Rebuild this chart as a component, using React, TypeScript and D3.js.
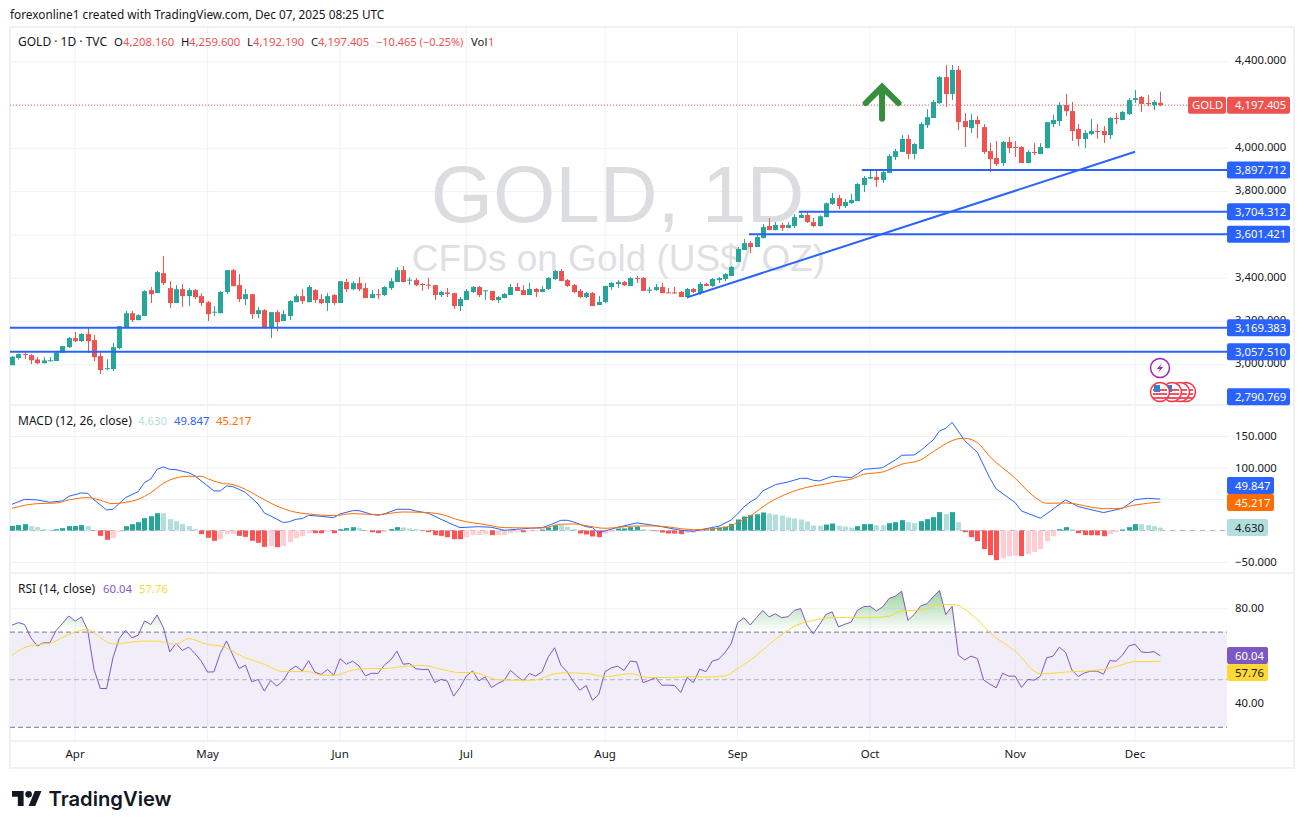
import React, { useEffect, useRef } from 'react';
import * as d3 from 'd3';

const opens = [
  2996,3029,3047,3042,3022,3005,3016,3015,3053,3079,
  3121,3107,3140,3112,3038,2979,2978,3075,3172,3236,
  3204,3223,3343,3329,3421,3352,3283,3347,3315,3343,
  3315,3287,3240,3236,3334,3435,3366,3301,3324,3232,
  3250,3172,3241,3200,3223,3287,3315,3287,3343,3301,
  3283,3320,3283,3380,3347,3375,3352,3306,3324,3320,
  3352,3380,3435,3387,3389,3371,3368,3366,3320,3332,
  3329,3269,3297,3334,3357,3339,3339,3297,3306,3320,
  3357,3343,3320,3348,3334,3348,3394,3431,3389,3366,
  3339,3311,3329,3274,3288,3357,3371,3380,3362,3399,
  3399,3340,3343,3357,3332,3332,3334,3311,3348,3329,
  3371,3362,3389,3394,3408,3473,3528,3560,3542,3583,
  3639,3620,3644,3630,3639,3676,3690,3657,3639,3680,
  3741,3768,3731,3745,3754,3828,3858,3865,3851,3884,
  3958,3981,4041,3972,3995,4105,4138,4207,4327,4249,
  4360,4124,4092,4129,4096,3985,3953,3930,4027,4004,
  4004,3930,3981,3972,3999,4110,4124,4198,4170,4087,
  4041,4064,4078,4078,4059,4138,4129,4156,4221,4235,
  4207,4198,4208.16,
];
const highs = [
  3038,3050,3056,3047,3033,3033,3033,3059,3084,3126,
  3149,3144,3167,3135,3056,3024,3098,3176,3246,3246,
  3232,3343,3357,3431,3500,3384,3366,3371,3352,3347,
  3329,3292,3269,3338,3435,3440,3417,3347,3324,3264,
  3255,3241,3250,3250,3297,3324,3347,3366,3347,3324,
  3329,3324,3384,3394,3384,3403,3375,3343,3347,3361,
  3398,3449,3454,3403,3398,3376,3399,3366,3339,3353,
  3329,3311,3348,3362,3362,3343,3339,3315,3329,3371,
  3376,3366,3376,3353,3362,3403,3436,3440,3394,3371,
  3348,3334,3334,3315,3362,3380,3389,3385,3403,3408,
  3403,3357,3371,3376,3353,3357,3339,3353,3353,3380,
  3376,3399,3403,3422,3454,3542,3579,3570,3597,3648,
  3676,3657,3653,3657,3694,3704,3708,3676,3688,3748,
  3791,3782,3764,3787,3838,3870,3895,3898,3893,3972,
  3995,4059,4059,4022,4119,4179,4221,4332,4383,4383,
  4378,4161,4156,4147,4110,4022,4032,4032,4050,4032,
  4008,3990,4022,4022,4119,4152,4212,4249,4212,4110,
  4082,4133,4110,4101,4142,4161,4170,4230,4267,4239,
  4244,4221,4259.6,
];
const lows = [
  2996,3022,3024,3001,3001,3004,3012,3015,3053,3075,
  3103,3103,3052,3015,2955,2973,2969,3070,3172,3195,
  3204,3223,3283,3329,3366,3260,3283,3264,3269,3301,
  3269,3200,3223,3236,3324,3361,3287,3274,3209,3213,
  3167,3121,3153,3200,3204,3287,3278,3287,3283,3278,
  3246,3274,3283,3334,3343,3338,3306,3306,3301,3315,
  3343,3380,3380,3366,3361,3339,3348,3297,3311,3311,
  3255,3246,3297,3329,3311,3297,3292,3283,3306,3320,
  3339,3320,3320,3311,3334,3343,3389,3385,3357,3329,
  3306,3306,3269,3274,3283,3343,3353,3362,3362,3376,
  3339,3329,3339,3329,3329,3325,3311,3306,3329,3320,
  3362,3357,3376,3385,3408,3473,3528,3514,3542,3583,
  3620,3620,3616,3630,3630,3676,3653,3634,3636,3680,
  3736,3717,3722,3741,3754,3796,3856,3819,3838,3884,
  3944,3981,3948,3948,3995,4092,4138,4203,4189,4221,
  4082,4004,4069,4045,3972,3888,3916,3916,3976,3958,
  3930,3930,3967,3972,3999,4096,4101,4147,4032,4008,
  3999,4059,4041,4022,4041,4110,4129,4152,4207,4166,
  4193,4175,4192.19,
];
const closes = [
  3035,3047,3044,3019,3005,3018,3019,3055,3084,3121,
  3107,3140,3107,3033,2973,2982,3079,3176,3236,3204,
  3227,3338,3324,3426,3375,3283,3347,3315,3343,3310,
  3283,3232,3243,3334,3435,3361,3301,3324,3232,3250,
  3167,3241,3195,3232,3292,3315,3292,3357,3297,3283,
  3315,3283,3384,3347,3375,3347,3306,3324,3321,3357,
  3384,3435,3380,3391,3366,3368,3365,3320,3334,3325,
  3269,3302,3339,3357,3320,3342,3297,3311,3325,3357,
  3339,3320,3348,3334,3348,3399,3431,3385,3362,3334,
  3311,3329,3269,3288,3362,3376,3380,3365,3399,3396,
  3339,3345,3357,3329,3329,3328,3311,3348,3334,3371,
  3362,3394,3399,3417,3450,3533,3560,3542,3588,3634,
  3620,3644,3630,3644,3680,3690,3657,3639,3684,3744,
  3768,3731,3750,3759,3833,3861,3865,3851,3888,3962,
  3985,4041,3972,4018,4110,4142,4212,4327,4249,4360,
  4119,4096,4129,4110,3981,3948,3925,4027,3999,4001,
  3930,3981,3976,4004,4119,4129,4198,4170,4078,4041,
  4069,4078,4075,4059,4138,4135,4166,4221,4230,4203,
  4204,4212,4197.405,
];

const macdHist = [
  7.4,8.5,10.1,6.9,5.3,2.1,1.1,2.1,3.7,6.9,
  7,8.5,6.9,-0.5,-8.5,-14.8,-11.6,-2.1,6.9,10.1,
  13.2,19.6,22.7,27.5,27.4,18,14.8,10.1,6.9,2.1,
  -5.8,-11.6,-16.4,-13.8,-5.8,-5.3,-8.5,-10.1,-16.4,-19.6,
  -25.9,-24.9,-26.5,-24.9,-18.5,-12.2,-9,-4.2,-4.3,-4.4,
  -2.6,-4.2,2.1,3.7,5.3,3.7,-0.5,-2.6,-4.2,-2.6,
  2.1,5.3,4.8,3.2,2.1,-0.5,-2.6,-7.4,-8.5,-10.6,
  -13.8,-13.9,-10.6,-7.4,-7.3,-5.8,-7.4,-7.3,-7.2,-4.2,
  -2.6,-2.7,-1.1,-1,1.6,4.8,8.5,8.4,5.8,2.6,
  -4.8,-6.3,-9.5,-10.6,-5.3,-2.1,3.2,3.3,5.3,6.3,
  2.1,1.1,-1.1,-3.2,-4.8,-4.9,-5.8,-3.7,-3.6,-2.1,
  1.6,3.2,4.8,6.3,10.6,17.5,22.2,24.3,25.9,28.6,
  27,25.4,23.8,20.6,19,17.5,14.3,7.9,7.8,9.5,
  11.1,7.4,6.3,4.8,6.9,10.1,10.2,8.5,8.4,11.6,
  13.2,16.4,13.2,11.6,14.8,18,21.2,29.1,25.9,29.1,
  13.2,-2.6,-10.6,-16.9,-29.6,-39.1,-47.1,-43.9,-40.7,-39.7,
  -40.7,-37.6,-34.4,-29.6,-16.9,-9,2.1,5.3,2.1,-4.2,
  -7.4,-7.5,-7.6,-9,-5.8,-2.6,1.6,5.3,10.1,10,
  8.5,6.9,4.63,
];

// MACD and signal lines, read at their turning points: candle number, value
const macdAt = [1,3,5,7,9,10,12,13,14,16,17,19,21,22,23,24,25,26,27,28,29,30,33,34,35,36,38,40,41,42,44,45,46,47,48,50,52,53,55,56,58,59,60,62,64,65,67,69,71,72,73,75,77,79,81,83,85,86,88,89,90,92,93,94,95,97,100,102,104,107,109,111,113,115,116,117,118,119,120,122,124,126,127,128,129,131,134,135,136,138,139,141,142,144,145,147,148,149,150,152,154,156,157,160,161,164,168,170,174,177,179,181,183];
const macdVal = [41.6,49.5,48.5,44.8,46.9,54.3,59.6,59.1,48.5,32.6,33.7,52.2,61.7,76,81.8,97.1,100.8,97.1,96.6,94,91.8,86.6,62.8,62.8,70.7,69.6,60.6,42.1,27.8,23.1,12.5,14.1,17.8,18.8,24.1,22.5,20.4,26.3,31.5,31.5,25.7,24.1,26.3,33.7,33.7,31,27.3,17.8,8.8,4.6,5.1,6.1,5.1,0.3,1.9,3.5,4.6,7.7,16.2,16.2,13.6,6.1,4.6,-3.9,-0.7,5.1,12,9.3,6.1,0.3,-1.3,2.9,6.7,16.7,26.3,37.4,45.3,51.1,62.8,72.8,77,82.9,82.9,79.7,78.6,86,83.9,89.7,97.1,98.7,99.8,111.9,119.4,119.9,126.8,143.7,158,162.2,171.7,142.6,124.1,82.9,65.9,44.2,31,19.4,48.5,37.9,28.4,35.2,49,51.1,49.847];
const signalAt = [1,3,5,8,10,13,15,17,19,21,23,25,27,29,31,32,34,36,38,40,44,46,48,52,55,59,63,66,69,72,76,79,85,88,90,92,95,100,103,109,114,116,118,121,124,127,130,132,134,136,139,142,145,147,150,151,152,154,156,160,163,165,168,174,176,179,183];
const signalVal = [35.2,40,42.6,43.7,48.5,52.2,47.9,42.6,44.8,49.5,60.1,74.9,83.4,86,86,82.3,75.4,72.8,65.4,54.3,34.7,28.9,26.3,23.6,26.8,25.2,29.4,28.9,25.7,16.2,9.3,4.6,4,9.9,10.4,7.7,3.5,7.2,7.2,1.4,4.6,12.5,23.1,44.2,59,68.6,73.9,78.1,81.5,89.2,92.9,105.1,112,125.2,142.6,145.8,146.3,139.4,117.2,82.9,53.8,43.2,43.7,34.7,34.7,40.5,45.217];

const rsiVal = [
  72.9,74,73.2,67.6,64.2,65.5,65.5,70.7,73.6,76.8,
  74.6,76.4,70.8,54.3,46.3,46.3,59.2,67.3,70.8,67.6,
  68.7,74.7,73.2,77.2,71.8,61.7,65.2,62.3,63.7,61,
  57.8,53.2,53.3,61,66.3,60.3,54.7,56.1,49.1,50.1,
  45.2,49.7,47.3,49.7,54,55.7,53.7,58,53.2,52.2,
  54.3,51.9,58.8,56.5,57.8,55.8,51.6,52.7,52.6,56.1,
  58.2,62,56.5,56.8,54.6,54.3,54.3,48.8,50.1,49.4,
  43.1,46.7,51.5,53.7,49.5,51.2,46.7,48.4,49.7,53.9,
  51.6,49.5,52.6,51.5,53.3,59.6,63.4,56.1,53.3,49.1,
  45.6,47.6,41.3,43.8,53.4,55,55.7,53.9,57.8,57.5,
  48.8,49.7,50.9,47.7,47.7,47.6,44.6,50.9,48.8,54.4,
  53.4,57.8,58.6,61.4,65.2,73.9,76,73,76.1,79.1,
  76.4,77.7,76,76.5,79.1,79.9,72.9,69.3,73.2,77.4,
  78.5,72.2,73.3,74.2,79.2,80.7,80.9,78.9,80.6,84.1,
  85.1,87.2,74.9,77.4,81,81.9,84.8,87.5,77.4,80.9,
  60.3,58.3,59.9,58.9,49.9,48.1,46.6,52.7,51.5,51.5,
  46.7,50.1,49.8,51.5,59.2,59.9,63.7,61.4,54,51.3,
  52.9,53.6,53.6,52.3,58,57.8,60.3,64.2,64.9,61.7,
  61.4,61.8,60.04,
];
const rsiMaAt = [1,3,5,7,10,12,13,15,17,19,22,24,25,27,29,32,34,38,41,44,48,50,52,55,58,60,63,66,69,72,74,78,82,84,87,89,92,95,99,102,106,108,111,114,116,119,121,126,128,131,133,137,140,142,145,148,150,154,156,160,164,168,174,176,179,181,183];
const rsiMaVal = [60.3,63.5,64.8,65.3,69,70.8,71.1,67.7,65,65.5,66.2,66.2,65.8,64.8,67.3,64.8,64.2,59.2,56.5,53.4,53.4,51.9,51.8,54,54.7,54.7,55.5,56,54.4,53,53,50.1,49.7,49.9,52.5,52.9,52.6,51.3,52.5,50.9,50.9,51.3,51.1,51.6,54.7,60.2,64.8,73.6,74.9,76.1,76.1,76.1,76.7,78.9,79.2,81.6,81.6,75.3,69.8,62,52.5,53.2,54.3,55.5,57.6,57.6,57.76];

const monthLabels = ['Apr', 'May', 'Jun', 'Jul', 'Aug', 'Sep', 'Oct', 'Nov', 'Dec'];
const monthCandles = [11, 32, 53, 73, 95, 116, 137, 160, 179];

const priceTicks = [4400, 4200, 4000, 3800, 3600, 3400, 3200, 3000];
const priceLabelled = [4400, 4000, 3800, 3400, 3200, 3000];
const macdTicks = [150, 100, 50, 0, -50];
const macdLabelled = [150, 100, -50];
const rsiTicks = [80, 60, 40];

// level lines: price and the candle they start from (0 = left edge of the pane)
const levelPrices = [3897.712, 3704.312, 3601.421, 3169.383, 3057.51];
const levelStarts = [135.7, 125.7, 117.8, 0, 0];
const trendCandles = [108, 179];
const trendPrices = [3309, 3982];

const UP = '#26a69a';
const DOWN = '#ef5350';
const BLUE = '#2962ff';
const INK = '#131722';
const FONT = '"Noto Sans", sans-serif';
const NUM_SIZE = 11.3;
const LABEL_SIZE = 12;

const W = 1304;
const H = 829;
const LEFT = 10;
const AXIS_X = 1227;

const App: React.FC = () => {
  const svgRef = useRef<SVGSVGElement>(null);

  useEffect(() => {
    if (!svgRef.current) return;
    const svg = d3.select(svgRef.current);
    svg.selectAll('*').remove();
    svg.attr('font-family', FONT);

    const x = d3.scaleLinear().domain([1, 183]).range([12, 1160.3]);
    const px = (n: number) => Math.round(x(n));
    const y = d3.scaleLinear().domain([3000, 4400]).range([364.3, 61.3]);
    const my = d3.scaleLinear().domain([-50, 150]).range([562, 436]);
    const ry = d3.scaleLinear().domain([30, 80]).range([727.3, 608.3]);

    svg.append('rect').attr('width', W).attr('height', H).attr('fill', '#fff');

    // gridlines and axes
    const gridColor = '#f0f1f4';
    const styleAxis = (g: any) => {
      g.select('.domain').remove();
      g.selectAll('.tick line').attr('stroke', gridColor).attr('stroke-width', 1);
      g.selectAll('.tick text').attr('fill', INK).attr('font-family', FONT);
    };
    const rightAxis = (scale: any, ticks: number[], labelled: number[], fmt: (v: number) => string, lift = 0) => {
      const axis = d3.axisRight(scale)
        .tickValues(ticks)
        .tickSize(-(AXIS_X - LEFT))
        .tickPadding(8)
        .tickFormat((v: any) => (labelled.includes(v) ? fmt(v) : ''));
      const g = svg.append('g').attr('transform', `translate(${AXIS_X},0)`).call(axis as any).call(styleAxis);
      g.selectAll('.tick text').attr('font-size', NUM_SIZE).attr('y', -lift);
    };

    const timeAxis = d3.axisBottom(x)
      .tickValues(monthCandles)
      .tickSize(-714)
      .tickPadding(9)
      .tickFormat((_: any, i: number) => monthLabels[i]);
    const timeG = svg.append('g').attr('transform', 'translate(-0.5,741)').call(timeAxis as any).call(styleAxis);
    timeG.selectAll('.tick text').attr('font-size', 11.5);

    rightAxis(y, priceTicks, priceLabelled, d3.format(',.3f'), 1);
    rightAxis(my, macdTicks, macdLabelled, d3.format('.3f'));

    // RSI band sits under its own grid
    svg.append('rect')
      .attr('x', LEFT).attr('width', AXIS_X - LEFT)
      .attr('y', ry(70)).attr('height', ry(30) - ry(70))
      .attr('fill', 'rgba(126,87,194,0.1)');
    rightAxis(ry, rsiTicks, rsiTicks, d3.format('.2f'), 0.5);

    // frame and pane separators
    svg.append('rect')
      .attr('x', LEFT).attr('y', 27).attr('width', 1284).attr('height', 741)
      .attr('fill', 'none').attr('stroke', gridColor).attr('stroke-width', 2);
    [405, 573, 741].forEach((yy) => {
      svg.append('line').attr('x1', LEFT).attr('x2', 1294).attr('y1', yy).attr('y2', yy)
        .attr('stroke', gridColor).attr('stroke-width', 2);
    });

    // watermark
    svg.append('text').attr('x', 617.5).attr('y', 222).attr('text-anchor', 'middle')
      .attr('font-family', '"Liberation Sans", sans-serif').attr('font-size', 80)
      .attr('fill', '#dcdde0').text('GOLD, 1D');
    svg.append('text').attr('x', 618.5).attr('y', 271).attr('text-anchor', 'middle')
      .attr('font-family', '"Liberation Sans", sans-serif').attr('font-size', 37)
      .attr('fill', '#dfe0e3').text('CFDs on Gold (US$/ OZ)');

    // last price line
    svg.append('line')
      .attr('x1', LEFT).attr('x2', 1188)
      .attr('y1', y(closes[182])).attr('y2', y(closes[182]))
      .attr('stroke', DOWN).attr('stroke-width', 1).attr('stroke-dasharray', '1 2');

    // candles
    const candles = svg.append('g');
    closes.forEach((c, i) => {
      const n = i + 1;
      const color = c >= opens[i] ? UP : DOWN;
      const cx = px(n);
      candles.append('rect')
        .attr('x', cx).attr('width', 1)
        .attr('y', y(highs[i])).attr('height', y(lows[i]) - y(highs[i]))
        .attr('fill', color);
      const top = y(Math.max(opens[i], c));
      const bottom = y(Math.min(opens[i], c));
      candles.append('rect')
        .attr('x', cx - 2).attr('width', 5)
        .attr('y', top).attr('height', Math.max(bottom - top, 1))
        .attr('fill', color);
    });

    // level lines and trend line
    levelPrices.forEach((p, i) => {
      svg.append('line')
        .attr('x1', levelStarts[i] ? x(levelStarts[i]) : LEFT).attr('x2', AXIS_X)
        .attr('y1', y(p)).attr('y2', y(p))
        .attr('stroke', BLUE).attr('stroke-width', 2);
    });
    svg.append('line')
      .attr('x1', x(trendCandles[0])).attr('y1', y(trendPrices[0]))
      .attr('x2', x(trendCandles[1])).attr('y2', y(trendPrices[1]))
      .attr('stroke', BLUE).attr('stroke-width', 2);

    // green arrow drawing
    const arrowN = 138.9;
    const arrow = d3.path();
    arrow.moveTo(x(arrowN), y(4135));
    arrow.lineTo(x(arrowN), y(4280));
    arrow.moveTo(x(arrowN - 2.6), y(4207));
    arrow.lineTo(x(arrowN), y(4282));
    arrow.lineTo(x(arrowN + 2.6), y(4207));
    svg.append('path').attr('d', arrow.toString())
      .attr('fill', 'none').attr('stroke', '#388e3c').attr('stroke-width', 6)
      .attr('stroke-linecap', 'round').attr('stroke-linejoin', 'miter');

    // MACD histogram
    const zero = my(0);
    svg.append('line').attr('x1', LEFT).attr('x2', AXIS_X).attr('y1', zero).attr('y2', zero)
      .attr('stroke', '#b2b5be').attr('stroke-width', 1).attr('stroke-dasharray', '5 5');
    macdHist.forEach((v, i) => {
      const prev = i ? macdHist[i - 1] : v;
      let fill = v >= prev ? UP : '#b2dfdb';
      if (v < 0) fill = v > prev ? '#ffcdd2' : '#ff5252';
      svg.append('rect')
        .attr('x', px(i + 1) - 2).attr('width', 5)
        .attr('y', Math.min(my(v), zero)).attr('height', Math.abs(my(v) - zero))
        .attr('fill', fill);
    });

    const macdLine = d3.line<number>()
      .x((_, i) => x(macdAt[i]))
      .y((d) => my(d))
      .curve(d3.curveLinear);
    svg.append('path').datum(macdVal).attr('d', macdLine as any)
      .attr('fill', 'none').attr('stroke', BLUE).attr('stroke-width', 1);
    const signalLine = d3.line<number>()
      .x((_, i) => x(signalAt[i]))
      .y((d) => my(d))
      .curve(d3.curveMonotoneX);
    svg.append('path').datum(signalVal).attr('d', signalLine as any)
      .attr('fill', 'none').attr('stroke', '#ff6d00').attr('stroke-width', 1);

    // RSI levels
    const levels: [number, string][] = [[70, '#787b86'], [50, 'rgba(120,123,134,0.5)'], [30, '#787b86']];
    levels.forEach(([v, color]) => {
      svg.append('line').attr('x1', LEFT).attr('x2', AXIS_X).attr('y1', ry(v)).attr('y2', ry(v))
        .attr('stroke', color).attr('stroke-width', 1).attr('stroke-dasharray', '5 3');
    });

    // overbought fill
    const defs = svg.append('defs');
    const grad = defs.append('linearGradient').attr('id', 'obFill')
      .attr('gradientUnits', 'userSpaceOnUse')
      .attr('x1', 0).attr('x2', 0).attr('y1', 590).attr('y2', ry(70));
    grad.append('stop').attr('offset', 0).attr('stop-color', '#4caf50').attr('stop-opacity', 0.55);
    grad.append('stop').attr('offset', 1).attr('stop-color', '#4caf50').attr('stop-opacity', 0);
    defs.append('clipPath').attr('id', 'obClip').append('rect')
      .attr('x', LEFT).attr('width', AXIS_X - LEFT).attr('y', 574).attr('height', ry(70) - 574);
    const rsiArea = d3.area<number>()
      .x((_, i) => x(i + 1))
      .y0(ry(70))
      .y1((d) => ry(d));
    svg.append('path').datum(rsiVal).attr('d', rsiArea as any)
      .attr('fill', 'url(#obFill)').attr('clip-path', 'url(#obClip)');

    const rsiLine = d3.line<number>().x((_, i) => x(i + 1)).y((d) => ry(d));
    svg.append('path').datum(rsiVal).attr('d', rsiLine as any)
      .attr('fill', 'none').attr('stroke', '#7e57c2').attr('stroke-width', 1);
    const rsiMaLine = d3.line<number>()
      .x((_, i) => x(rsiMaAt[i]))
      .y((d) => ry(d))
      .curve(d3.curveMonotoneX);
    svg.append('path').datum(rsiMaVal).attr('d', rsiMaLine as any)
      .attr('fill', 'none').attr('stroke', '#fdd835').attr('stroke-width', 1);

    // event icons
    const bolt = svg.append('g').attr('transform', 'translate(1160,368)');
    bolt.append('circle').attr('r', 9.5).attr('fill', '#fff').attr('stroke', '#9c27b0').attr('stroke-width', 1.5);
    bolt.append('path').attr('d', 'M2,-5 L-3,1 L0,1 L-2,5 L3,-1 L0,-1 Z').attr('fill', '#9c27b0');
    [1186, 1180, 1172, 1160].forEach((cx) => {
      const f = svg.append('g').attr('transform', `translate(${cx},392)`);
      f.append('circle').attr('r', 9.5).attr('fill', '#fff').attr('stroke', '#f23645').attr('stroke-width', 1.5);
      f.append('rect').attr('x', -7).attr('y', -3).attr('width', 14).attr('height', 2).attr('fill', '#f7525f');
      f.append('rect').attr('x', -7).attr('y', 1).attr('width', 14).attr('height', 2).attr('fill', '#f7525f');
      f.append('rect').attr('x', -7).attr('y', 5).attr('width', 14).attr('height', 2).attr('fill', '#f7525f');
      f.append('rect').attr('x', -6).attr('y', -7).attr('width', 6).attr('height', 7).attr('fill', '#2f80d8');
    });

    // axis tags
    const tag = (xx: number, cy: number, w: number, fill: string, color: string, label: string, pad = 8) => {
      svg.append('rect').attr('x', xx).attr('y', cy - 8.5).attr('width', w).attr('height', 17)
        .attr('rx', 2).attr('fill', fill);
      svg.append('text').attr('x', xx + pad).attr('y', cy + 4)
        .attr('font-size', NUM_SIZE).attr('fill', color).text(label);
    };
    const fmt3 = d3.format(',.3f');
    levelPrices.forEach((p) => tag(AXIS_X, y(p), 63, BLUE, '#fff', fmt3(p)));
    tag(AXIS_X, 396.7, 63, BLUE, '#fff', '2,790.769');
    tag(1188, y(closes[182]), 38, DOWN, '#fff', 'GOLD', 4);
    tag(AXIS_X, y(closes[182]), 63, DOWN, '#fff', fmt3(closes[182]));
    tag(AXIS_X, 485.5, 47, BLUE, '#fff', '49.847');
    tag(AXIS_X, 502.5, 47, '#ff6d00', '#fff', '45.217');
    tag(AXIS_X, 527.5, 41, '#b2dfdb', INK, '4.630');
    tag(AXIS_X, 655.5, 41, '#7e57c2', '#fff', '60.04');
    tag(AXIS_X, 672.5, 41, '#fdd835', INK, '57.76');

    // header and legends
    svg.append('text').attr('x', 10).attr('y', 19).attr('font-size', 11.8).attr('fill', INK)
      .text('forexonline1 created with TradingView.com, Dec 07, 2025 08:25 UTC');

    const legend = (yy: number, parts: [number, string, string, number?][]) => {
      parts.forEach(([xx, s, c, size]) => {
        svg.append('text').attr('x', xx).attr('y', yy)
          .attr('font-size', size ?? NUM_SIZE).attr('fill', c).text(s);
      });
    };
    legend(46, [
      [18, 'GOLD · 1D · TVC', INK, LABEL_SIZE],
      [114, 'O', INK], [123, '4,208.160', DOWN],
      [181, 'H', INK], [189, '4,259.600', DOWN],
      [247, 'L', INK], [253, '4,192.190', DOWN],
      [311, 'C', INK], [318, '4,197.405', DOWN],
      [376, '−10.465 (−0.25%)', DOWN, 11],
      [471, 'Vol', INK], [488, '1', DOWN],
    ]);
    legend(425, [
      [18, 'MACD (12, 26, close)', INK, LABEL_SIZE], [138, '4.630', '#b2dfdb'],
      [174, '49.847', BLUE], [216, '45.217', '#ff6d00'],
    ]);
    legend(593, [
      [18, 'RSI (14, close)', INK, LABEL_SIZE], [103, '60.04', '#7e57c2'], [139, '57.76', '#fdd835'],
    ]);

    // TradingView logo
    const logo = svg.append('g').attr('transform', 'translate(12,787.7) scale(0.83)').attr('fill', INK);
    logo.append('path').attr('d', 'M14 22H7V11H0V4h14v18zM28 22h-8l7.5-18h8L28 22z');
    logo.append('circle').attr('cx', 20).attr('cy', 8).attr('r', 4);
    svg.append('text').attr('x', 48.5).attr('y', 806)
      .attr('font-family', 'Inter, sans-serif').attr('font-size', 20.2).attr('font-weight', 600)
      .attr('fill', INK).text('TradingView');
  }, []);

  return (
    <svg
      ref={svgRef}
      width={W}
      height={H}
      style={{ position: 'absolute', left: 0, top: 0, display: 'block' }}
    />
  );
};

export default App;
